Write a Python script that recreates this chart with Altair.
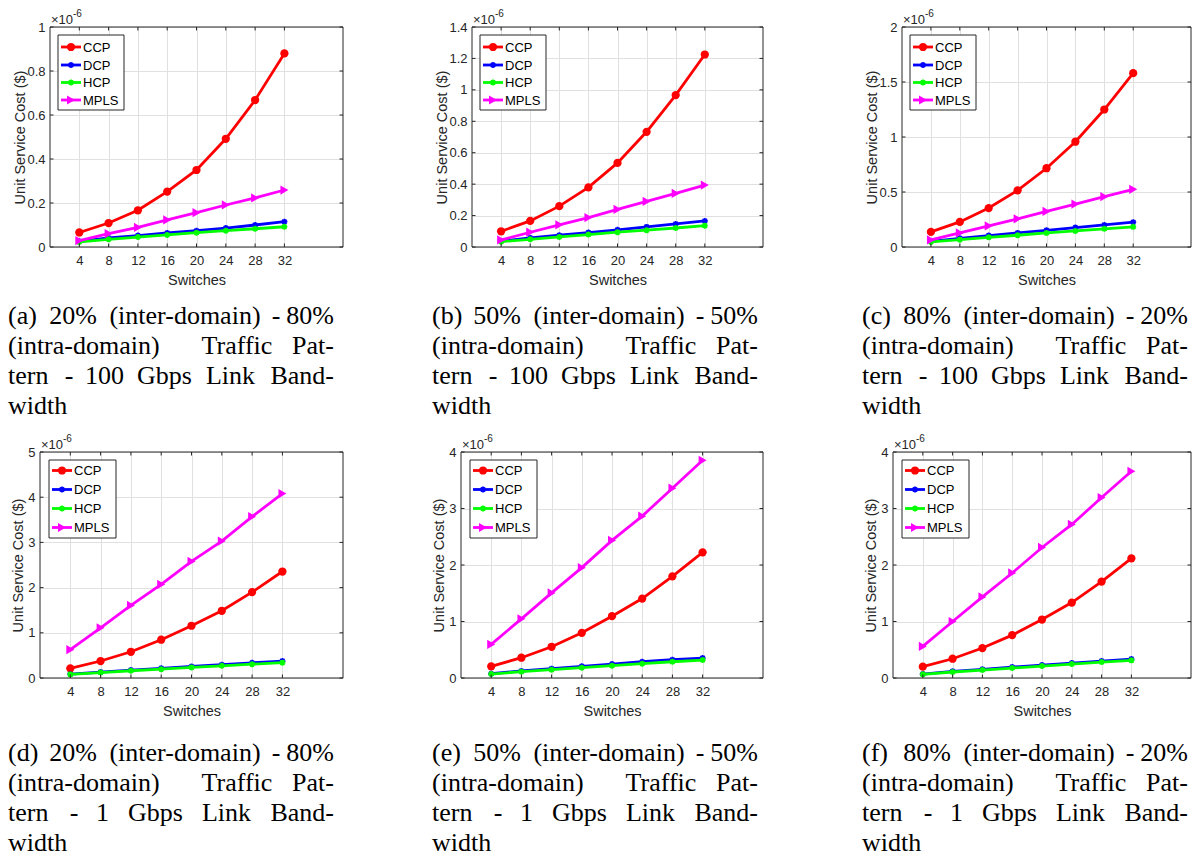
import altair as alt
import pandas as pd

# ---------------- data (unit service cost, in units of 1e-6 $) ----------------
switches = [4, 8, 12, 16, 20, 24, 28, 32]
series_names = ["CCP", "DCP", "HCP", "MPLS"]
series_colors = ["#ff0000", "#0000ff", "#00ff00", "#ff00ff"]

a_ccp  = [0.066, 0.109, 0.167, 0.252, 0.350, 0.492, 0.668, 0.880]
a_dcp  = [0.026, 0.041, 0.052, 0.064, 0.074, 0.086, 0.100, 0.115]
a_hcp  = [0.023, 0.035, 0.045, 0.055, 0.065, 0.074, 0.083, 0.092]
a_mpls = [0.029, 0.061, 0.089, 0.123, 0.156, 0.191, 0.223, 0.259]

b_ccp  = [0.100, 0.166, 0.260, 0.379, 0.535, 0.733, 0.967, 1.225]
b_dcp  = [0.038, 0.058, 0.075, 0.092, 0.109, 0.128, 0.147, 0.166]
b_hcp  = [0.034, 0.049, 0.064, 0.079, 0.094, 0.107, 0.121, 0.136]
b_mpls = [0.045, 0.094, 0.141, 0.187, 0.239, 0.290, 0.341, 0.394]

c_ccp  = [0.137, 0.228, 0.354, 0.515, 0.716, 0.957, 1.250, 1.580]
c_dcp  = [0.052, 0.079, 0.104, 0.128, 0.152, 0.177, 0.201, 0.226]
c_hcp  = [0.046, 0.067, 0.088, 0.107, 0.128, 0.146, 0.165, 0.183]
c_mpls = [0.064, 0.128, 0.192, 0.256, 0.323, 0.390, 0.457, 0.524]

d_ccp  = [0.214, 0.376, 0.580, 0.847, 1.156, 1.487, 1.900, 2.356]
d_dcp  = [0.085, 0.130, 0.175, 0.215, 0.255, 0.295, 0.335, 0.375]
d_hcp  = [0.080, 0.120, 0.160, 0.195, 0.235, 0.270, 0.305, 0.340]
d_mpls = [0.626, 1.110, 1.605, 2.070, 2.580, 3.030, 3.570, 4.080]

e_ccp  = [0.206, 0.359, 0.553, 0.800, 1.094, 1.406, 1.800, 2.224]
e_dcp  = [0.076, 0.124, 0.165, 0.206, 0.247, 0.288, 0.324, 0.353]
e_hcp  = [0.070, 0.112, 0.147, 0.182, 0.218, 0.253, 0.288, 0.318]
e_mpls = [0.594, 1.047, 1.506, 1.953, 2.435, 2.865, 3.360, 3.853]

f_ccp  = [0.200, 0.341, 0.530, 0.759, 1.035, 1.335, 1.706, 2.118]
f_dcp  = [0.070, 0.118, 0.153, 0.194, 0.229, 0.265, 0.300, 0.335]
f_hcp  = [0.065, 0.106, 0.141, 0.176, 0.212, 0.247, 0.282, 0.312]
f_mpls = [0.559, 1.000, 1.435, 1.859, 2.310, 2.718, 3.194, 3.659]

a_yticks = [0, 0.2, 0.4, 0.6, 0.8, 1]
b_yticks = [0, 0.2, 0.4, 0.6, 0.8, 1, 1.2, 1.4]
c_yticks = [0, 0.5, 1, 1.5, 2]
d_yticks = [0, 1, 2, 3, 4, 5]
e_yticks = [0, 1, 2, 3, 4]
f_yticks = [0, 1, 2, 3, 4]

cap_labels = ["(a)", "(b)", "(c)", "(d)", "(e)", "(f)"]
cap_inter = ["20%", "50%", "80%", "20%", "50%", "80%"]
cap_intra = ["80%", "50%", "20%", "80%", "50%", "20%"]
cap_bw = ["100", "100", "100", "1", "1", "1"]
x_title = "Switches"
y_title = "Unit Service Cost ($)"
exp_base = "\u00d710"
exp_sup = "-6"

# ---------------- style / layout ----------------
FONT = "Liberation Sans"
SERIF = "Liberation Serif"
TXT = "#262626"
GRID = "#e0e0e0"
TICK = 3.5
ASTERISK = "M-1,0L1,0M0,-1L0,1M-0.72,-0.72L0.72,0.72M-0.72,0.72L0.72,-0.72"

ROOT_X, ROOT_Y = 39, 26   # page position of the layout origin
COL_X = [39, 460, 880]    # page x of each column group
ROW_Y = [26, 451]         # page y of each row group

# L: plot-left inside the group, w: plot width, W: group width
panels = [
    dict(vals=[a_ccp, a_dcp, a_hcp, a_mpls], ymax=1.0, yticks=a_yticks, L=10, w=293, W=303, h=220, row=0, col=0),
    dict(vals=[b_ccp, b_dcp, b_hcp, b_mpls], ymax=1.4, yticks=b_yticks, L=11, w=291, W=302, h=220, row=0, col=1),
    dict(vals=[c_ccp, c_dcp, c_hcp, c_mpls], ymax=2.0, yticks=c_yticks, L=21, w=289, W=310, h=220, row=0, col=2),
    dict(vals=[d_ccp, d_dcp, d_hcp, d_mpls], ymax=5.0, yticks=d_yticks, L=0, w=303, W=303, h=226, row=1, col=0),
    dict(vals=[e_ccp, e_dcp, e_hcp, e_mpls], ymax=4.0, yticks=e_yticks, L=0, w=302, W=302, h=226, row=1, col=1),
    dict(vals=[f_ccp, f_dcp, f_hcp, f_mpls], ymax=4.0, yticks=f_yticks, L=12, w=298, W=310, h=226, row=1, col=2),
]

# legend geometry relative to plot's top-left
legend_geo = [
    dict(box=(8, 74, 8, 83), ys=[20, 38, 55.5, 73], lx=(11, 31), mx=21, tx=33),
    dict(box=(9, 76, 8, 86), ys=[18.5, 37.5, 56.5, 75.5], lx=(12, 32), mx=22, tx=34),
]
ytitle_x = [-26, -18]
cap_col_dx = [0, 424, 854]
cap_base = [[323, 353, 383, 413], [760, 790, 820, 850]]


def marker_props(i):
    if i == 0:
        return dict(shape="circle", filled=True, size=68)
    if i == 3:
        return dict(shape="triangle-right", filled=True, size=85)
    return dict(shape=ASTERISK, filled=False, size=36, strokeWidth=1.7)


def one_row(d):
    return alt.Chart(pd.DataFrame(d))


def vtext(text, x, y, size, font=FONT, align="left", baseline="alphabetic", color=TXT):
    return one_row({"t": [text]}).mark_text(
        align=align, baseline=baseline, font=font, fontSize=size, color=color
    ).encode(x=alt.value(x), y=alt.value(y), text="t:N")


def build_panel(k, p, anchor=False):
    L, w, W, h = p["L"], p["w"], p["W"], p["h"]
    gx, gy = COL_X[p["col"]], ROW_Y[p["row"]]
    xsc = alt.Scale(domain=[0, 40], range=[L, L + w], nice=False, zero=False)
    ysc = alt.Scale(domain=[0, p["ymax"]], nice=False, zero=True)
    common = dict(grid=True, gridColor=GRID, gridWidth=1, domain=False, ticks=False, tickSize=0,
                  labelFont=FONT, labelFontSize=13, labelColor=TXT,
                  titleFont=FONT, titleFontSize=14.5, titleFontWeight="normal", titleColor=TXT)
    xax = alt.Axis(values=switches, format="d", title=x_title, labelPadding=7,
                   titleY=37, titleBaseline="alphabetic", **common)
    yax = alt.Axis(values=p["yticks"], format="~g", title=y_title, labelPadding=5, offset=-L,
                   titleX=ytitle_x[p["row"]], titleBaseline="alphabetic", titleAngle=270, **common)
    X = alt.X("Switches:Q", scale=xsc, axis=xax)
    Y = alt.Y("Cost:Q", scale=ysc, axis=yax)
    layers = []
    if anchor:
        layers.append(one_row({"v": [0]}).mark_rect(fill="white", opacity=0).encode(
            x=alt.value(-ROOT_X), x2=alt.value(-ROOT_X + 1), y=alt.value(-ROOT_Y), y2=alt.value(-ROOT_Y + 1)))
    for i, (name, color, vals) in enumerate(zip(series_names, series_colors, p["vals"])):
        df = pd.DataFrame({"Switches": switches, "Cost": vals})
        layers.append(alt.Chart(df).mark_line(color=color, strokeWidth=2.8).encode(x=X, y=Y))
        layers.append(alt.Chart(df).mark_point(color=color, opacity=1, **marker_props(i)).encode(x=X, y=Y))
    # box frame
    layers.append(one_row({"v": [0]}).mark_rect(fill="transparent", stroke=TXT, strokeWidth=1).encode(
        x=alt.value(L), x2=alt.value(L + w), y=alt.value(0), y2=alt.value(h)))
    # inward ticks on all four sides (MATLAB box style)
    tx = pd.DataFrame({"Switches": switches})
    ty = pd.DataFrame({"Cost": p["yticks"]})
    layers.append(alt.Chart(tx).mark_rule(color=TXT, strokeWidth=1).encode(
        x=X, y=alt.value(h), y2=alt.value(h - TICK)))
    layers.append(alt.Chart(tx).mark_rule(color=TXT, strokeWidth=1).encode(
        x=X, y=alt.value(0), y2=alt.value(TICK)))
    layers.append(alt.Chart(ty).mark_rule(color=TXT, strokeWidth=1).encode(
        y=Y, x=alt.value(L), x2=alt.value(L + TICK)))
    layers.append(alt.Chart(ty).mark_rule(color=TXT, strokeWidth=1).encode(
        y=Y, x=alt.value(L + w - TICK), x2=alt.value(L + w)))
    # exponent label
    layers.append(vtext(exp_base, L + 1, -3, 13))
    layers.append(vtext(exp_sup, L + 23, -10, 10))
    # legend
    g = legend_geo[p["row"]]
    x1, x2, y1, y2 = g["box"]
    layers.append(one_row({"v": [0]}).mark_rect(fill="white", stroke=TXT, strokeWidth=1).encode(
        x=alt.value(L + x1), x2=alt.value(L + x2), y=alt.value(y1), y2=alt.value(y2)))
    for i, (name, color) in enumerate(zip(series_names, series_colors)):
        yy = g["ys"][i]
        layers.append(one_row({"s": [name]}).mark_rule(color=color, strokeWidth=2.8).encode(
            x=alt.value(L + g["lx"][0]), x2=alt.value(L + g["lx"][1]), y=alt.value(yy)))
        layers.append(one_row({"s": [name]}).mark_point(color=color, opacity=1, **marker_props(i)).encode(
            x=alt.value(L + g["mx"]), y=alt.value(yy)))
        layers.append(one_row({"s": [name]}).mark_text(
            align="left", baseline="middle", font=FONT, fontSize=13, color="#000000"
        ).encode(x=alt.value(L + g["tx"]), y=alt.value(yy + 0.5), text="s:N"))
    # caption (justified, word by word), page coords -> group coords
    dx = cap_col_dx[p["col"]] - gx
    base = [b - gy for b in cap_base[p["row"]]]
    line1 = [(cap_labels[k], "left", 7), (cap_inter[k], "center", 72), ("(inter-domain)", "center", 184),
             ("-", "center", 275), (cap_intra[k], "right", 333)]
    line2 = [("(intra-domain)", "left", 7), ("Traffic", "center", 236), ("Pat-", "right", 333)]
    if p["row"] == 0:
        line3 = [("tern", "left", 7), ("-", "center", 68), (cap_bw[k], "center", 103.5), ("Gbps", "center", 163.5),
                 ("Link", "center", 229.5), ("Band-", "right", 333)]
    else:
        line3 = [("tern", "left", 7), ("-", "center", 73), (cap_bw[k], "center", 101.5), ("Gbps", "center", 154.5),
                 ("Link", "center", 225.5), ("Band-", "right", 333)]
    line4 = [("width", "left", 7)]
    for li, line in enumerate([line1, line2, line3, line4]):
        for word, al, xx in line:
            layers.append(vtext(word, xx + dx, base[li], 26, font=SERIF, align=al, color="#000000"))
    return alt.layer(*layers).properties(width=W, height=h)


P = [build_panel(k, p, anchor=(k == 0)) for k, p in enumerate(panels)]

chart = alt.concat(
    *P,
    columns=3,
    spacing={"row": 205, "column": 118},
    bounds="flush",
    align="each",
    padding=0,
).configure_view(stroke="transparent")

chart.save("out.html", embed_options={"renderer": "svg", "actions": False})
